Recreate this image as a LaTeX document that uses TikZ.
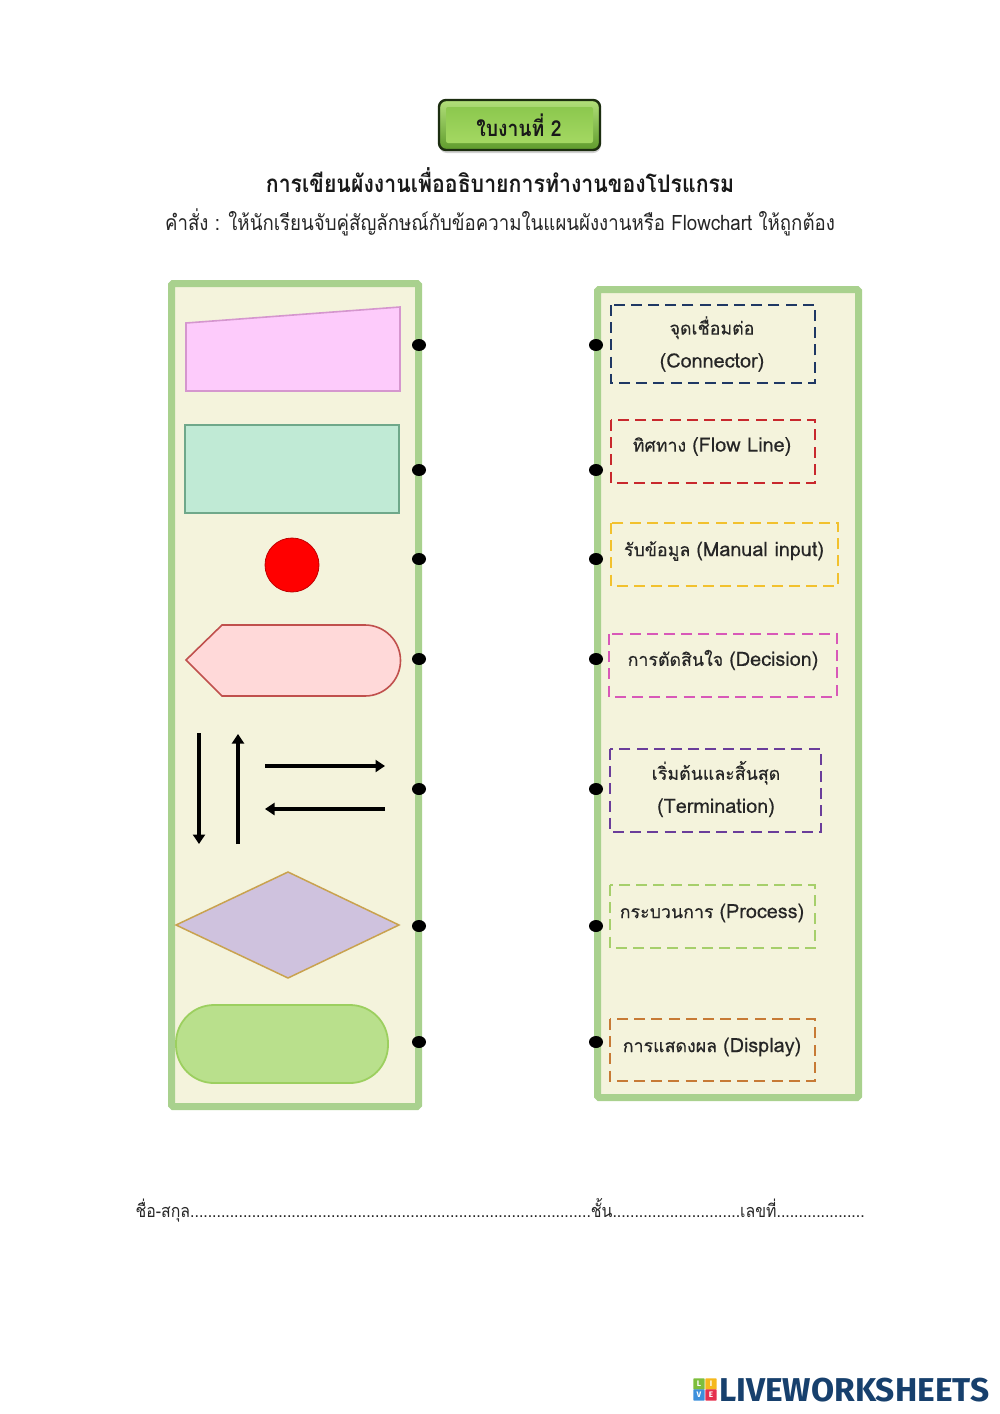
\documentclass[tikz,border=0pt]{standalone}
\usepackage{fontspec}
\setmainfont[Script=Thai]{Loma}
\newfontfamily\logofont[FakeStretch=1.015]{Fira Sans}
\newfontfamily\semifont[Script=Thai,FakeBold=0.35]{Loma}
\newfontfamily\narrowfont[Script=Thai,FakeStretch=0.88]{Loma}
\usetikzlibrary{shapes.geometric,arrows.meta}
\definecolor{panelfill}{HTML}{F4F3DC}
\definecolor{panelline}{HTML}{A9D18E}
\definecolor{textdark}{HTML}{262626}
\definecolor{logoblue}{HTML}{17406D}
\definecolor{HTMLpink}{HTML}{D596CE}
\definecolor{HTMLpinkfill}{HTML}{FDCBFB}
\definecolor{HTMLteal}{HTML}{6FA88A}
\definecolor{HTMLtealfill}{HTML}{C0EAD5}
\definecolor{HTMLred}{HTML}{C0504D}
\definecolor{HTMLredfill}{HTML}{FFD9D9}
\definecolor{HTMLgold}{HTML}{C9A24F}
\definecolor{HTMLlilac}{HTML}{CFC2DE}
\definecolor{HTMLgreen}{HTML}{9CCF5F}
\definecolor{HTMLgreenfill}{HTML}{B9E08C}
\definecolor{HTMLnavy}{HTML}{1F3864}
\definecolor{HTMLcrimson}{HTML}{C8282D}
\definecolor{HTMLyellow}{HTML}{F2C12E}
\definecolor{HTMLmagenta}{HTML}{D858B8}
\definecolor{HTMLpurple}{HTML}{6A3D9A}
\definecolor{HTMLlime}{HTML}{A6CF6B}
\definecolor{HTMLorange}{HTML}{C77A35}
\definecolor{HTMLlogogreen}{HTML}{7DBE3C}
\definecolor{HTMLlogoyellow}{HTML}{F5B81C}
\definecolor{HTMLlogoblue}{HTML}{3D8FDB}
\definecolor{HTMLlogored}{HTML}{E5304E}
\definecolor{btnedge}{HTML}{1C2E10}
\definecolor{btnhi}{HTML}{B2E07A}
\definecolor{btnlo}{HTML}{5F9B2C}
\definecolor{btntop}{HTML}{8CC84E}
\definecolor{btnbot}{HTML}{A4D862}
\newcommand{\lat}[1]{{\fontsize{19.8}{33}\selectfont #1}}
\tikzset{
  panel/.style={draw=panelline,line width=7pt,fill=panelfill,rounded corners=1.5pt},
  dot/.style={ellipse,fill=black,minimum width=14pt,minimum height=12pt,inner sep=0pt},
  dbox/.style={draw=#1,line width=2.4pt,dash pattern=on 11pt off 6.2pt},
  lbl/.style={text=textdark,font=\semifont\fontsize{17.8}{33}\selectfont,align=center,inner sep=0pt},
  blackarrow/.style={draw=black,line width=3.2pt,-{Triangle[length=9.5pt,width=12pt]}},
  logosq/.style={minimum size=11.4pt,inner sep=0pt,text=white,font=\logofont\bfseries\fontsize{8}{8}\selectfont,rounded corners=0.8pt},
}
\begin{document}
\begin{tikzpicture}[x=1pt,y=-1pt]
\useasboundingbox[fill=white] (0,0) rectangle (1000,1414);
% heading button
\fill[black!18,rounded corners=8pt] (439,103) rectangle (601,153);
\shade[top color=btnhi,bottom color=btnlo,draw=btnedge,line width=2.4pt,rounded corners=7pt] (439,100) rectangle (600,150);
\shade[top color=btntop,bottom color=btnbot,rounded corners=2pt] (446,107) rectangle (593,143);
\node[font=\narrowfont\bfseries\fontsize{22}{26}\selectfont,text=black!90] (sheet) at (519,125) {ใบงานที่ 2};
\node[font=\narrowfont\bfseries\fontsize{24.2}{28}\selectfont,text=black!90] (title) at (500,180) {การเขียนผังงานเพื่ออธิบายการทำงานของโปรแกรม};
\node[font=\narrowfont\fontsize{21.2}{26}\selectfont,text=black!85] (instr) at (500,222) {คำสั่ง : ให้นักเรียนจับคู่สัญลักษณ์กับข้อความในแผนผังงานหรือ Flowchart ให้ถูกต้อง};
% panels
\draw[panel] (171.5,283.5) rectangle (418.5,1106.5);
\draw[panel] (597.5,289.5) rectangle (858.5,1097.5);
% left shapes
\draw[draw=HTMLpink,line width=1.6pt,fill=HTMLpinkfill] (186,323) -- (400,307) -- (400,391) -- (186,391) -- cycle;
\draw[draw=HTMLteal,line width=1.4pt,fill=HTMLtealfill] (185,425) rectangle (399,513);
\node[circle,fill=red,draw=red!75!black,line width=.8pt,minimum size=54pt,inner sep=0pt] (conn) at (292,565) {};
\draw[draw=HTMLred,line width=1.6pt,fill=HTMLredfill] (186,660) -- (222,625) -- (365,625) arc[start angle=-90,end angle=90,radius=35.5] -- (222,696) -- cycle;
\coordinate (dt) at (199,733); \coordinate (db) at (199,844);
\coordinate (ub) at (238,844); \coordinate (ut) at (238,734);
\coordinate (rl) at (265,766); \coordinate (rr) at (385,766);
\coordinate (lr) at (385,809); \coordinate (ll) at (265,809);
\draw[blackarrow] (dt) -- (db);
\draw[blackarrow] (ub) -- (ut);
\draw[blackarrow] (rl) -- (rr);
\draw[blackarrow] (lr) -- (ll);
\draw[draw=HTMLgold,line width=1.5pt,fill=HTMLlilac] (176,925) -- (288,872) -- (399,925) -- (288,978) -- cycle;
\draw[draw=HTMLgreen,line width=1.8pt,fill=HTMLgreenfill,rounded corners=38pt] (176,1005) rectangle (388,1083);
% dots
\foreach \n/\y in {a/345,b/470,c/559,d/659,e/789,f/926,g/1042}{
  \node[dot] (l\n) at (419,\y) {};
  \node[dot] (r\n) at (596,\y) {};
}
% right boxes
\draw[dbox=HTMLnavy] (611,305) rectangle (815,383);
\draw[dbox=HTMLcrimson] (611,420) rectangle (815,483);
\draw[dbox=HTMLyellow] (611,523) rectangle (838,586);
\draw[dbox=HTMLmagenta] (609,634) rectangle (837,697);
\draw[dbox=HTMLpurple] (610,749) rectangle (821,832);
\draw[dbox=HTMLlime] (610,885) rectangle (815,948);
\draw[dbox=HTMLorange] (610,1019) rectangle (815,1081);
\node[lbl] (t1) at (712,344) {จุดเชื่อมต่อ\\\lat{(Connector)}};
\node[lbl] (t2) at (712,446.5) {ทิศทาง \lat{(Flow Line)}};
\node[lbl] (t3) at (724,551) {รับข้อมูล \lat{(Manual input)}};
\node[lbl] (t4) at (723,660) {การตัดสินใจ \lat{(Decision)}};
\node[lbl] (t5) at (716,789) {เริ่มต้นและสิ้นสุด\\\lat{(Termination)}};
\node[lbl] (t6) at (712,913) {กระบวนการ \lat{(Process)}};
\node[lbl] (t7) at (712,1047) {การแสดงผล \lat{(Display)}};
% footer
\node[font=\narrowfont\fontsize{18}{20}\selectfont,text=black!85,inner sep=0pt] (foot) at (500,1210) {ชื่อ-สกุล...........................................................................................ชั้น.............................เลขที่....................};
% logo
\node[logosq,fill=HTMLlogogreen] (lgl) at (699,1384) {L};
\node[logosq,fill=HTMLlogoyellow] (lgi) at (711,1384) {I};
\node[logosq,fill=HTMLlogoblue] (lgv) at (699,1395) {V};
\node[logosq,fill=HTMLlogored] (lge) at (711,1395) {E};
\node[anchor=west,inner sep=0pt,text=logoblue,font=\logofont\bfseries\fontsize{33}{36}\selectfont] (logo) at (719,1390) {LIVEWORKSHEETS};
\end{tikzpicture}
\end{document}
